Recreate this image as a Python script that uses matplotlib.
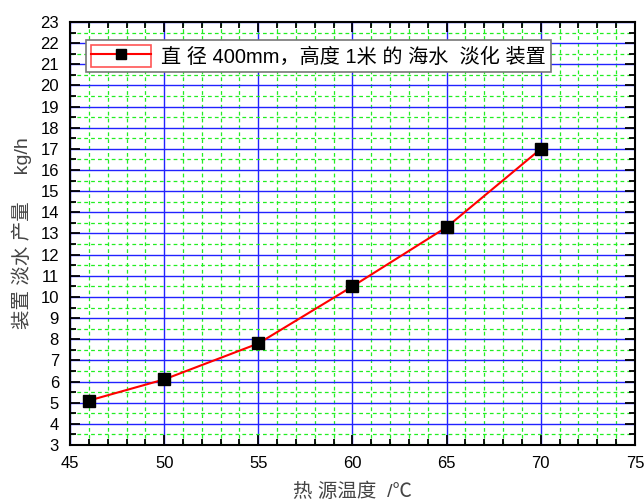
import numpy as np
import matplotlib
matplotlib.use('Agg')
import matplotlib.pyplot as plt
from matplotlib.ticker import MultipleLocator
from matplotlib.patches import Rectangle
from matplotlib.lines import Line2D

plt.rcParams['font.family'] = ['Liberation Sans', 'Noto Sans CJK SC', 'DejaVu Sans']

# data
temp = [46, 50, 55, 60, 65, 70]
output = [5.1, 6.1, 7.8, 10.5, 13.3, 17.0]
series_name = '直 径 400mm，高度 1米 的 海水  淡化 装置'

fig = plt.figure(figsize=(6.44, 5.03), dpi=100)
ax = fig.add_axes([0.1087, 0.1153, 0.8773, 0.841])

ax.set_xlim(45, 75)
ax.set_ylim(3, 23)
ax.xaxis.set_major_locator(MultipleLocator(5))
ax.xaxis.set_minor_locator(MultipleLocator(1))
ax.yaxis.set_major_locator(MultipleLocator(1))
ax.yaxis.set_minor_locator(MultipleLocator(0.5))

ax.grid(which='major', color='#2222ff', lw=1.0, ls='-')
ax.grid(which='minor', color='#22ee22', lw=0.9, ls=(0, (3, 2.5)))
ax.set_axisbelow(True)

ax.tick_params(which='both', direction='in', top=True, right=True,
               labelsize=12, width=1.3, pad=8)
ax.tick_params(which='major', length=7)
ax.tick_params(which='minor', length=4)
for s in ax.spines.values():
    s.set_linewidth(1.5)

ax.plot(temp, output, color='red', lw=1.5, zorder=3)
ax.plot(temp, output, ls='none', marker='s', ms=8, color='black', zorder=4)

# legend handle: red box with line + marker (Origin style)
box = Rectangle((0, 0), 1, 1, fc='none', ec='#ff5555', lw=1.2)
ln = Line2D([], [], color='red', lw=1.5, marker='s', ms=7,
            mfc='black', mec='black')
leg = ax.legend([(box, ln)], [series_name], loc='upper left',
                bbox_to_anchor=(0.028, 0.958), fontsize=14.5,
                frameon=True, fancybox=False, edgecolor='#777777',
                framealpha=1, handlelength=3.0, handleheight=1.3,
                borderpad=0.25, handletextpad=0.5, borderaxespad=0)
leg.get_frame().set_linewidth(1.2)

ax.set_xlabel('热 源温度  /℃', fontsize=14, color='#444444', labelpad=8)
ax.set_ylabel('装置 淡水 产量     kg/h', fontsize=14, color='#444444', labelpad=6)

fig.savefig('out.png', dpi=100)
